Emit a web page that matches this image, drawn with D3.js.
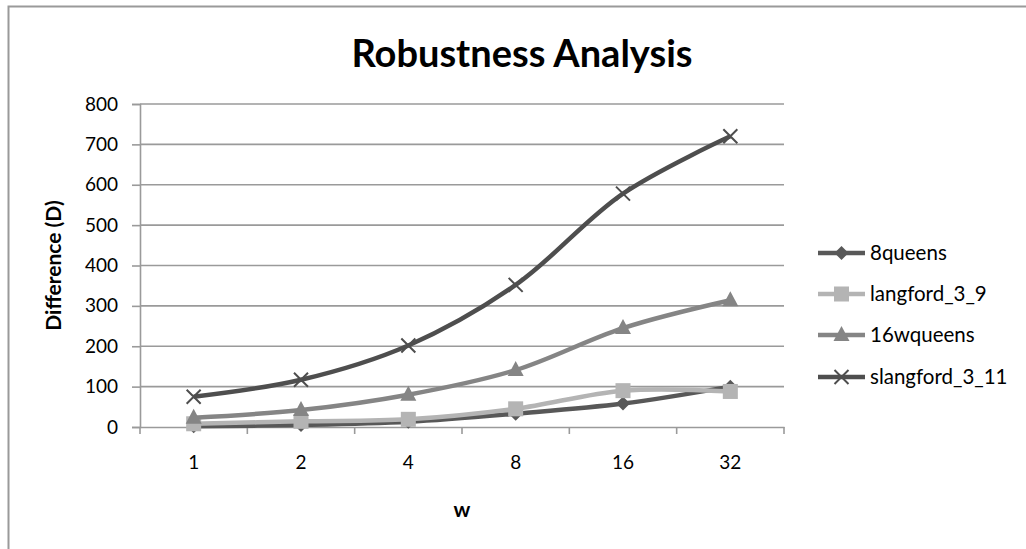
<!DOCTYPE html>
<html>
<head>
<meta charset="utf-8">
<script src="https://cdn.jsdelivr.net/npm/d3@7"></script>
<style>
  html, body { margin: 0; padding: 0; background: #fff; }
  svg { display: block; }
  text { font-family: Lato, "Open Sans", "Noto Sans", sans-serif; fill: #000; }
</style>
</head>
<body>
<svg id="chart" width="1026" height="549"></svg>
<script>
// Window sizes (w) on the category axis
const categories = ["1", "2", "4", "8", "16", "32"];

// Difference (D) per benchmark
const seriesNames = ["8queens", "langford_3_9", "16wqueens", "slangford_3_11"];
const queens8 = [2, 5, 13, 33, 58, 100];
const langford39 = [8, 14, 19, 45, 90, 88];
const wqueens16 = [23, 42, 80, 141, 245, 314];
const slangford311 = [75, 117, 202, 352, 578, 720];

const yTicks = [0, 100, 200, 300, 400, 500, 600, 700, 800];

const seriesValues = [queens8, langford39, wqueens16, slangford311];
const colors = ["#585858", "#b4b4b4", "#858585", "#4e4e4e"];
const symbols = ["diamond", "square", "triangle", "cross"];

const svg = d3.select("#chart");
const W = 1026, H = 549;

// Chart frame
svg.append("rect")
  .attr("x", 8.5).attr("y", 6.5)
  .attr("width", W + 10).attr("height", H + 10)
  .attr("fill", "#fff")
  .attr("stroke", "#9a9a9a").attr("stroke-width", 2);

const plot = { left: 140, right: 784, top: 104, bottom: 427 };

const x = d3.scaleBand().domain(categories).range([plot.left, plot.right]).padding(0);
const y = d3.scaleLinear().domain([0, 800]).range([plot.bottom, plot.top]);

// Title
svg.append("text")
  .attr("x", 522).attr("y", 67)
  .attr("text-anchor", "middle")
  .attr("font-size", 38).attr("font-weight", "bold")
  .text("Robustness Analysis");

// Horizontal gridlines
svg.append("g")
  .selectAll("line")
  .data(yTicks.filter(t => t > 0))
  .join("line")
  .attr("x1", plot.left).attr("x2", plot.right)
  .attr("y1", d => y(d)).attr("y2", d => y(d))
  .attr("stroke", "#9a9a9a").attr("stroke-width", 1.6);

// Y axis
const yAxis = svg.append("g")
  .attr("transform", `translate(${plot.left},0)`)
  .call(d3.axisLeft(y).tickValues(yTicks).tickSize(8).tickPadding(14));
yAxis.select(".domain").attr("stroke", "#9a9a9a").attr("stroke-width", 1.6);
yAxis.selectAll(".tick line").attr("stroke", "#9a9a9a").attr("stroke-width", 1.6);
yAxis.selectAll(".tick text")
  .attr("font-size", 19).attr("font-family", "Lato, 'Open Sans', sans-serif").attr("fill", "#000");

// X axis with tick marks on the category boundaries
const xAxis = svg.append("g")
  .attr("transform", `translate(0,${plot.bottom})`)
  .call(d3.axisBottom(x).tickSize(0).tickPadding(29));
xAxis.select(".domain").attr("stroke", "#9a9a9a").attr("stroke-width", 1.6);
xAxis.selectAll(".tick text")
  .attr("font-size", 19).attr("font-family", "Lato, 'Open Sans', sans-serif").attr("fill", "#000");
const boundaries = categories.map(c => x(c)).concat([x(categories[categories.length - 1]) + x.bandwidth()]);
xAxis.append("g")
  .selectAll("line")
  .data(boundaries)
  .join("line")
  .attr("x1", d => d).attr("x2", d => d)
  .attr("y1", 0).attr("y2", 7)
  .attr("stroke", "#9a9a9a").attr("stroke-width", 1.6);

// Axis titles
svg.append("text")
  .attr("x", 462).attr("y", 517)
  .attr("text-anchor", "middle")
  .attr("font-size", 21).attr("font-weight", "bold")
  .text("w");

svg.append("text")
  .attr("transform", `translate(61,${(plot.top + plot.bottom) / 2}) rotate(-90)`)
  .attr("text-anchor", "middle")
  .attr("font-size", 21).attr("font-weight", "bold")
  .text("Difference (D)");

// Marker drawing
function drawMarker(g, type, color) {
  if (type === "diamond") {
    g.append("path").attr("d", "M0,-7L7,0L0,7L-7,0Z").attr("fill", color);
  } else if (type === "square") {
    g.append("rect").attr("x", -7.5).attr("y", -7.5).attr("width", 15).attr("height", 15).attr("fill", color);
  } else if (type === "triangle") {
    g.append("path").attr("d", "M0,-9L8,6L-8,6Z").attr("fill", color);
  } else {
    g.append("path").attr("d", "M-7,-7L7,7M-7,7L7,-7")
      .attr("stroke", color).attr("stroke-width", 2).attr("fill", "none");
  }
}

const line = d3.line()
  .x((d, i) => x(categories[i]) + x.bandwidth() / 2)
  .y(d => y(d))
  .curve(d3.curveCatmullRom.alpha(0.5));

// Series
seriesValues.forEach((vals, s) => {
  const g = svg.append("g");
  g.append("path")
    .datum(vals)
    .attr("d", line)
    .attr("fill", "none")
    .attr("stroke", colors[s])
    .attr("stroke-width", 4.5)
    .attr("stroke-linejoin", "round");
  vals.forEach((v, i) => {
    const m = g.append("g")
      .attr("transform", `translate(${x(categories[i]) + x.bandwidth() / 2},${y(v)})`);
    drawMarker(m, symbols[s], colors[s]);
  });
});

// Legend
const legendY = [253, 294, 335, 377];
seriesNames.forEach((name, s) => {
  const g = svg.append("g").attr("transform", `translate(818,${legendY[s]})`);
  g.append("line")
    .attr("x1", 0).attr("x2", 47).attr("y1", 0).attr("y2", 0)
    .attr("stroke", colors[s]).attr("stroke-width", 4.5);
  const m = g.append("g").attr("transform", "translate(23.5,0)");
  drawMarker(m, symbols[s], colors[s]);
  g.append("text")
    .attr("x", 52).attr("y", 7)
    .attr("font-size", 20.5)
    .text(name);
});
</script>
</body>
</html>
